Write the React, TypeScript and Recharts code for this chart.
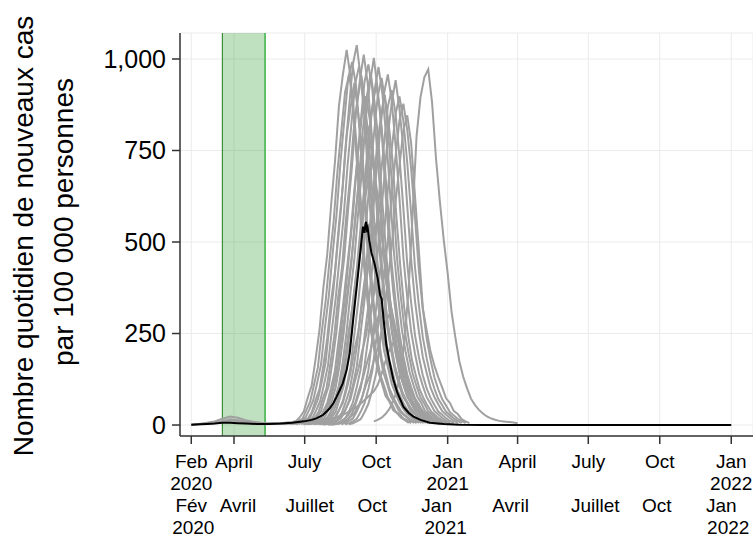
import {
  LineChart,
  Line,
  XAxis,
  YAxis,
  CartesianGrid,
  ReferenceArea,
  ReferenceLine,
} from "recharts";

// days are counted from 1 Feb 2020
const tickDays = [5, 60, 151, 243, 335, 425, 516, 608, 700];
const enLabels = [
  ["Feb", "2020"],
  ["April"],
  ["July"],
  ["Oct"],
  ["Jan", "2021"],
  ["April"],
  ["July"],
  ["Oct"],
  ["Jan", "2022"],
];
const frLabels = [
  ["Fév", "2020"],
  ["Avril"],
  ["Juillet"],
  ["Oct"],
  ["Jan", "2021"],
  ["Avril"],
  ["Juillet"],
  ["Oct"],
  ["Jan", "2022"],
];
const yTicks = [0, 250, 500, 750, 1000];

// lockdown 17 Mar - 11 May 2020
const lockdownStart = 45;
const lockdownEnd = 100;

// simulated runs, one value every 5 days from their start day
const runStart = [
  130, 133, 137, 140, 143, 146, 149, 152, 155, 158, 161, 165, 168, 171, 175,
  179, 183, 188, 193, 198, 203, 208, 157, 163, 170, 175, 181, 185,
];
const runs = [
  [3, 7, 11, 22, 38, 75, 108, 180, 259, 375, 466, 601, 720, 870, 955, 1025, 950, 812, 662, 485, 375, 270, 210, 150, 116, 80, 64, 40, 32, 20, 13, 6],
  [2, 6, 12, 17, 40, 64, 110, 158, 256, 340, 450, 550, 690, 800, 910, 955, 890, 760, 620, 455, 350, 255, 195, 140, 108, 75, 59, 37, 30, 18, 12, 5],
  [3, 6, 11, 21, 42, 68, 115, 165, 265, 352, 468, 575, 716, 832, 948, 992, 928, 792, 648, 474, 365, 266, 204, 146, 112, 78, 61, 39, 30, 21, 11, 6],
  [2, 6, 12, 18, 35, 68, 98, 162, 238, 340, 420, 545, 652, 790, 868, 935, 850, 750, 588, 450, 330, 255, 182, 142, 100, 76, 55, 38, 27, 19, 11, 5],
  [3, 7, 13, 20, 44, 70, 118, 172, 276, 368, 485, 598, 745, 866, 985, 1038, 950, 840, 660, 505, 370, 285, 205, 158, 112, 85, 61, 43, 30, 22, 12, 6],
  [3, 6, 12, 19, 41, 66, 112, 163, 260, 348, 460, 565, 705, 820, 932, 980, 912, 780, 636, 468, 358, 262, 200, 146, 110, 77, 60, 38, 30, 19, 12, 6],
  [2, 6, 11, 20, 36, 70, 100, 166, 242, 348, 430, 558, 668, 805, 888, 955, 868, 766, 600, 462, 338, 260, 186, 145, 103, 78, 56, 39, 28, 18, 11, 5],
  [3, 6, 12, 21, 38, 74, 107, 176, 258, 370, 458, 592, 710, 855, 942, 1012, 935, 800, 652, 480, 368, 270, 205, 150, 113, 80, 62, 40, 31, 20, 12, 6],
  [2, 5, 11, 17, 38, 60, 102, 150, 238, 320, 420, 518, 645, 750, 852, 898, 832, 714, 582, 428, 328, 240, 182, 133, 100, 71, 55, 35, 27, 18, 11, 5],
  [3, 6, 12, 19, 42, 67, 112, 165, 262, 350, 462, 570, 708, 826, 938, 985, 918, 785, 640, 470, 360, 264, 200, 147, 111, 78, 60, 39, 30, 20, 12, 6],
  [3, 6, 11, 18, 39, 66, 104, 165, 248, 348, 440, 560, 680, 810, 898, 962, 880, 772, 608, 466, 342, 262, 190, 146, 104, 78, 57, 39, 28, 19, 11, 6],
  [3, 6, 12, 20, 39, 72, 108, 172, 256, 364, 455, 585, 705, 845, 935, 1003, 915, 806, 635, 485, 362, 274, 197, 152, 108, 81, 59, 41, 30, 20, 12, 6],
  [2, 6, 11, 19, 37, 66, 101, 160, 240, 338, 425, 542, 656, 785, 870, 928, 860, 740, 600, 440, 338, 250, 188, 138, 104, 73, 57, 36, 28, 19, 11, 5],
  [3, 6, 12, 21, 37, 71, 105, 170, 250, 358, 445, 572, 690, 830, 915, 978, 905, 788, 630, 468, 356, 262, 198, 145, 109, 77, 60, 38, 29, 20, 12, 6],
  [3, 5, 11, 18, 39, 65, 107, 158, 250, 338, 442, 548, 680, 792, 898, 948, 878, 756, 610, 452, 344, 254, 192, 140, 106, 75, 58, 37, 28, 19, 11, 6],
  [2, 5, 11, 18, 35, 64, 97, 156, 230, 328, 410, 526, 635, 760, 842, 902, 825, 724, 570, 435, 322, 246, 178, 136, 97, 73, 53, 36, 27, 18, 11, 5],
  [3, 6, 12, 19, 39, 66, 108, 160, 252, 342, 445, 552, 685, 800, 905, 958, 885, 764, 618, 458, 348, 256, 194, 142, 107, 76, 58, 38, 29, 19, 11, 6],
  [2, 6, 11, 17, 38, 62, 104, 152, 243, 326, 430, 528, 660, 768, 870, 915, 850, 732, 592, 440, 334, 245, 186, 136, 100, 74, 55, 37, 28, 18, 11, 5],
  [3, 6, 11, 19, 36, 67, 100, 162, 242, 340, 428, 548, 662, 792, 880, 942, 862, 755, 598, 452, 338, 256, 186, 142, 102, 76, 56, 38, 28, 19, 11, 6],
  [2, 5, 11, 18, 37, 61, 101, 150, 236, 320, 418, 518, 642, 752, 850, 898, 830, 716, 578, 430, 326, 240, 182, 133, 99, 71, 54, 36, 27, 18, 11, 5],
  [2, 5, 10, 17, 36, 60, 99, 148, 232, 312, 410, 505, 630, 735, 832, 878, 806, 700, 566, 420, 318, 236, 178, 130, 97, 70, 53, 35, 26, 17, 11, 5],
  [2, 5, 10, 16, 35, 58, 96, 142, 225, 300, 396, 488, 610, 708, 805, 846, 770, 625, 475, 320, 258, 200, 162, 130, 102, 73, 60, 38, 30, 16, 10, 5],
  [2, 5, 10, 15, 34, 55, 92, 136, 218, 290, 382, 470, 588, 684, 776, 818, 750, 662, 520, 398, 292, 224, 162, 125, 88, 67, 48, 34, 24, 16, 10, 5],
  [2, 4, 9, 15, 28, 52, 77, 125, 184, 262, 328, 422, 506, 610, 672, 722, 656, 582, 456, 350, 256, 196, 142, 110, 78, 59, 42, 30, 21, 14, 9, 4],
  [2, 3, 7, 12, 21, 40, 60, 98, 143, 205, 255, 330, 394, 475, 522, 562, 512, 452, 354, 272, 200, 153, 110, 85, 61, 46, 33, 23, 17, 11, 7, 3],
  [1, 3, 5, 9, 18, 29, 49, 71, 115, 152, 202, 246, 310, 356, 408, 428, 400, 340, 279, 204, 157, 114, 87, 64, 48, 34, 25, 17, 13, 9, 5, 3],
  [1, 2, 4, 7, 15, 24, 41, 60, 96, 128, 169, 206, 260, 298, 342, 358, 334, 284, 233, 171, 132, 96, 73, 53, 40, 29, 22, 14, 11, 7, 4, 2],
  [1, 2, 4, 6, 12, 22, 32, 52, 76, 110, 136, 176, 210, 255, 280, 302, 274, 243, 190, 146, 106, 82, 59, 46, 33, 24, 18, 12, 9, 6, 4, 2],
];
const lateRunStart = 240;
const lateRun = [10, 14, 20, 30, 44, 65, 98, 150, 240, 380, 580, 790, 895, 950, 972, 880, 728, 610, 505, 415, 310, 238, 175, 132, 100, 72, 55, 42, 32, 24, 19, 15, 12, 10, 9, 8, 7, 5];
const lowRunStart = 150;
const lowRun = [2, 3, 5, 7, 9, 11, 14, 17, 20, 24, 28, 33, 39, 45, 53, 62, 72, 82, 92, 110, 140, 175, 205, 225, 210, 170, 125, 90, 62, 42, 28, 18, 12, 8, 5, 3];

// early spring 2020 runs, one value every 10 days from day 5
const earlyStart = 5;
const earlyRuns = [
  [1, 3, 6, 10, 17, 23, 20, 13, 9, 6, 5, 5, 6, 8, 11, 15, 20],
  [1, 2, 4, 7, 11, 16, 13, 9, 6, 4, 4, 4, 5, 6, 8, 10, 13],
  [0, 2, 3, 5, 8, 12, 10, 7, 5, 3, 3, 3, 3, 4, 5, 7, 9],
];

// average of the runs
const meanDays = [5, 15, 25, 35, 45, 55, 65, 75, 90, 105, 120, 135, 150, 160, 166, 175, 183, 188, 192, 196, 200, 205, 209, 213, 216, 218, 222, 226, 228, 229, 230, 231, 232, 234, 237, 241, 245, 248, 250, 253, 256, 260, 265, 270, 278, 285, 291, 300, 312, 330, 350, 380, 500, 700];
const meanValues = [1, 2, 3, 4, 6, 6, 5, 4, 3, 3, 4, 6, 10, 14, 18, 28, 45, 60, 77, 95, 114, 150, 197, 280, 340, 378, 460, 542, 525, 548, 555, 535, 540, 505, 470, 440, 400, 355, 345, 280, 220, 175, 125, 90, 50, 33, 23, 14, 6, 3, 1, 0, 0, 0];

const toSeries = (start: number, step: number, values: number[]) =>
  values.map((v, k) => ({ d: start + step * k, v }));

const grayRuns = [
  ...earlyRuns.map((r) => toSeries(earlyStart, 10, r)),
  ...runs.map((r, i) => toSeries(runStart[i], 5, r)),
  toSeries(lateRunStart, 5, lateRun),
  toSeries(lowRunStart, 5, lowRun),
];
const meanSeries = meanDays.map((d, i) => ({ d, v: meanValues[i] }));

const FONT = "'Liberation Sans', Arial, Helvetica, sans-serif";
// small nudges of the french labels, as in the original layout
const frShift = [
  [0, 2],
  [4, 0],
  [5, 0],
  [-4, 0],
  [-11, -2],
  [-7, 0],
  [7, 0],
  [-3, 0],
  [-10, -3],
];

const DateTick = (props: any) => {
  const { x, y, payload } = props;
  const i = tickDays.indexOf(payload.value);
  if (i < 0) return null;
  const en = enLabels[i];
  const fr = frLabels[i];
  return (
    <g fontFamily={FONT} fontSize={19} fill="#000" textAnchor="middle">
      <text x={x} y={y + 24}>{en[0]}</text>
      {en[1] && <text x={x} y={y + 46}>{en[1]}</text>}
      <text x={x + frShift[i][0]} y={y + 68}>{fr[0]}</text>
      {fr[1] && <text x={x + frShift[i][1]} y={y + 90}>{fr[1]}</text>}
    </g>
  );
};

const YTitle = () => (
  <g fontFamily={FONT} fontSize={28} fill="#000" textAnchor="middle">
    <text x={33} y={236} transform="rotate(-90 33 236)">
      Nombre quotidien de nouveaux cas
    </text>
    <text x={73} y={222} transform="rotate(-90 73 222)">
      par 100 000 personnes
    </text>
  </g>
);

export default function App() {
  return (
    <div style={{ position: "absolute", left: 0, top: 0, width: 753, height: 542, background: "#fff" }}>
      <LineChart width={753} height={542} margin={{ top: 33, right: 0, bottom: 0, left: 0 }}>
        <CartesianGrid stroke="#ebebeb" strokeWidth={1} />
        <XAxis
          dataKey="d"
          type="number"
          domain={[-9.5, 728]}
          allowDataOverflow
          ticks={tickDays}
          interval={0}
          height={106}
          tickSize={8}
          tickMargin={0}
          tick={<DateTick />}
          axisLine={{ stroke: "#333", strokeWidth: 1.5 }}
          tickLine={{ stroke: "#333", strokeWidth: 1.5 }}
        />
        <YAxis
          type="number"
          domain={[-30, 1071]}
          allowDataOverflow
          ticks={yTicks}
          interval={0}
          width={180}
          tickSize={8}
          tickMargin={6}
          tickFormatter={(v: number) => v.toLocaleString("en-US")}
          tick={{ fontFamily: FONT, fontSize: 25, fill: "#000" }}
          axisLine={{ stroke: "#333", strokeWidth: 1.5 }}
          tickLine={{ stroke: "#333", strokeWidth: 1.5 }}
          label={{ content: () => <YTitle /> }}
        />
        <ReferenceArea
          x1={lockdownStart}
          x2={lockdownEnd}
          y1={-30}
          y2={1071}
          fill="#2e9a2e"
          fillOpacity={0.3}
          stroke="none"
          ifOverflow="hidden"
        />
        <ReferenceLine x={lockdownStart} stroke="#1f7a1f" strokeWidth={1} />
        <ReferenceLine x={lockdownEnd} stroke="#3cb043" strokeWidth={1.5} />
        {grayRuns.map((s, i) => (
          <Line
            key={`run-${i}`}
            data={s}
            dataKey="v"
            type="linear"
            stroke="#a0a0a0"
            strokeWidth={2}
            dot={false}
            activeDot={false}
            isAnimationActive={false}
          />
        ))}
        <Line
          data={meanSeries}
          dataKey="v"
          type="linear"
          stroke="#000"
          strokeWidth={2}
          dot={false}
          activeDot={false}
          isAnimationActive={false}
        />
      </LineChart>
    </div>
  );
}
